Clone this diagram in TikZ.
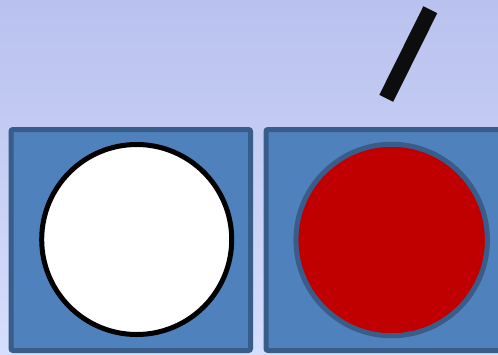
\documentclass[tikz,border=0pt]{standalone}
\usepackage{tikz}
\usetikzlibrary{positioning}
\definecolor{skytop}{RGB}{185, 193, 238}
\definecolor{skybottom}{RGB}{213, 222, 252}
\definecolor{panelcolor}{RGB}{79, 129, 189}
\definecolor{panelborder}{RGB}{56, 93, 138}
\definecolor{lampred}{RGB}{192, 0, 0}
\definecolor{barcolor}{RGB}{13, 13, 13}

\begin{document}
\begin{tikzpicture}[
    x=1pt, y=-1pt,
    panel/.style={rectangle, draw=panelborder, fill=panelcolor, line width=5pt,
        rounded corners=2pt, minimum width=239.5pt, minimum height=221pt, inner sep=0pt},
    lamp/.style={circle, line width=5pt, inner sep=0pt},
    lamp off/.style={lamp, fill=white, draw=black, minimum size=190pt},
    lamp on/.style={lamp, fill=lampred, draw=panelborder, minimum size=191.5pt},
    bar/.style={line width=15.5pt, draw=barcolor},
]

% ======= BACKGROUND =======
\fill[top color=skytop, bottom color=skybottom] (0,0) rectangle (498,354);
\useasboundingbox (0,0) rectangle (498,354);

% ======= PANELS =======
\node[panel] (P-1) at (130.75, 240) {};
\node[panel] (P-2) at (385.75, 240) {};

% ======= LAMPS =======
\node[lamp off] (L-1) at (136.7, 239.5) {};
\node[lamp on]  (L-2) at (391.7, 240) {};

% ======= SWITCH BAR =======
\coordinate (B-top) at (430.3, 9.7);
\coordinate (B-bot) at (386.3, 98.3);
\draw[bar] (B-top) -- (B-bot);

\end{tikzpicture}
\end{document}
